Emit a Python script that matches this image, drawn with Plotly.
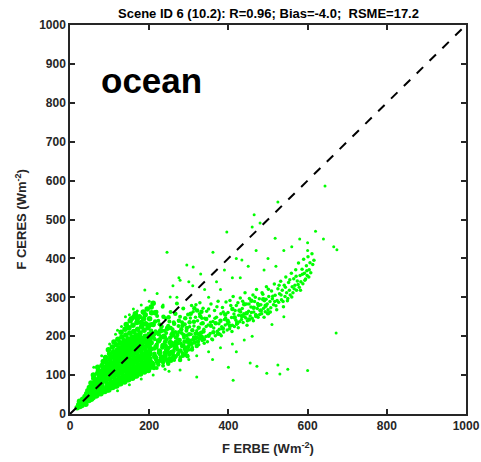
import plotly.graph_objects as go

# Hand-read (F ERBE, F CERES) points, Wm-2
core_points = [
    (18,16),(22,24),(25,19),(28,30),(24,33),(30,22),(32,38),(27,27),
    (35,28),(38,45),(40,33),(42,52),(36,38),(44,40),(45,60),(40,25),(43,47),
    (48,35),(50,62),(52,45),(55,72),(50,52),(54,38),(56,55),(53,80),(49,68),(57,63),
    (58,42),(60,70),(62,50),(64,85),(60,92),(63,58),(65,78),(61,64),(66,46),(59,100),
    (68,48),(70,75),(72,90),(70,105),(73,60),(71,55),(74,98),(69,83),(72,112),(75,68),(70,120),
    (78,52),(80,80),(82,95),(80,110),(83,65),(81,125),(84,58),(79,88),(82,103),(85,118),(80,72),(84,135),
    (88,58),(90,85),(92,100),(90,120),(93,70),(91,135),(94,62),(89,93),(92,110),(95,128),(90,145),(94,78),
    (98,62),(100,90),(102,105),(100,125),(103,75),(101,140),(104,68),(99,98),(102,115),(105,132),(100,155),(104,82),(97,165),(103,148),
    (108,68),(110,95),(112,110),(110,130),(113,80),(111,145),(114,72),(109,103),(112,120),(115,138),(110,160),(114,88),(107,172),(113,152),(111,185),
    (118,72),(120,100),(122,115),(120,135),(123,85),(121,150),(124,78),(119,108),(122,125),(125,143),(120,165),(124,93),(117,178),(123,158),(121,192),(126,170),
    (128,78),(130,105),(132,120),(130,140),(133,90),(131,155),(134,84),(129,113),(132,130),(135,148),(130,170),(134,98),(127,183),(133,163),(131,198),(136,178),(129,210),
    (138,82),(140,110),(142,125),(140,145),(143,95),(141,160),(144,88),(139,118),(142,135),(145,153),(140,175),(144,103),(137,188),(143,168),(141,203),(146,183),(139,218),(142,230),
    (148,88),(150,113),(152,130),(150,150),(153,100),(151,165),(154,93),(149,123),(152,140),(155,158),(150,180),(154,108),(147,193),(153,173),(151,208),(156,188),(149,222),(152,240),
    (158,92),(160,118),(162,135),(160,155),(163,105),(161,170),(164,98),(159,128),(162,145),(165,163),(160,185),(164,113),(157,198),(163,178),(161,212),(166,193),(159,228),(162,250),
    (168,98),(170,123),(172,140),(170,160),(173,110),(171,175),(174,104),(169,133),(172,150),(175,168),(170,190),(174,118),(167,203),(173,183),(171,218),(176,198),(169,235),
    (178,103),(180,128),(182,145),(180,165),(183,115),(181,180),(184,110),(179,138),(182,155),(185,173),(180,195),(184,123),(177,208),(183,188),(181,225),(186,245),
    (188,108),(190,133),(192,150),(190,170),(193,120),(191,185),(194,115),(189,143),(192,160),(195,178),(190,200),(194,128),(187,215),(193,193),(191,232),
    (198,112),(200,138),(202,155),(200,175),(203,125),(201,190),(204,120),(199,148),(202,165),(205,183),(200,205),(204,133),(197,222),(203,198),(201,245),(206,260),
    (155,245),(165,258),(175,250),(185,262),(195,270),(205,275),(210,285),(190,255),(170,245),(180,235),(200,228),(210,230),(215,260),
    (209,124),(214,148),(217,172),(212,206),(221,134),(224,188),(226,158),(229,214),(232,142),(235,176),
    (238,198),(240,150),(244,165),(247,221),(250,139),(253,184),(256,158),(259,203),(262,147),(266,176),
]

transition_points = [
    (196,152),(198,187),(203,142),(205,214),(207,168),(209,131),(211,196),(213,155),(215,238),(217,141),
    (219,178),(221,209),(223,127),(225,163),(227,192),(229,144),(231,225),(233,171),(235,133),(237,201),
    (239,157),(241,186),(243,141),(245,219),(247,168),(249,249),(251,152),(253,196),(255,137),(257,177),
    (259,208),(261,161),(263,232),(265,146),(267,185),(269,171),(271,203),(273,154),(275,240),(277,190),
    (279,163),(281,218),(283,175),(285,150),(287,203),(289,186),(291,246),(293,160),(295,221),(297,192),
    (299,174),(301,205),(303,188),(305,258),(307,180),(309,215),(311,191),(313,237),(315,184),(317,206),
    (319,196),(321,266),(323,186),(325,222),(327,194),(329,251),(331,209),(333,198),(335,233),(337,212),
    (206,231),(212,118),(218,262),(224,205),(230,137),(236,250),(242,175),(248,129),(254,221),(260,142),
    (266,258),(272,182),(278,139),(284,227),(290,167),(296,150),(302,236),(308,166),(314,272),(320,175),
    (326,204),(332,263),(338,192),(344,244),(350,201),(356,227),(362,210),(368,233),(374,206),(380,240),
    (386,220),(392,256),(398,240),(404,227),(410,270),(416,248),(422,234),(428,266),(434,252),(440,282),
    (446,259),(452,243),(458,291),(464,273),(470,252),(476,280),(482,266),(488,295),(494,278),(500,259),
]

mid_points = [
    (211,128),(213,168),(216,213),(218,145),(220,252),(222,186),(224,136),(226,231),(228,162),(230,199),
    (232,147),(234,276),(236,178),(238,214),(240,139),(242,246),(244,192),(246,158),(248,227),(250,171),
    (252,143),(254,262),(256,205),(258,183),(260,155),(262,236),(264,168),(266,211),(268,149),(270,284),
    (272,193),(274,226),(276,162),(278,250),(280,181),(282,208),(284,157),(286,271),(288,196),(290,231),
    (292,170),(294,214),(296,185),(298,256),(299,165),
    (214,192),(219,118),(223,240),(227,153),(231,224),(235,124),(239,185),(243,208),(247,133),(251,238),
    (255,174),(259,218),(263,139),(267,196),(271,165),(275,211),(279,146),(283,236),(287,177),(291,152),
    (295,202),(297,148),
]

branch_points = [
    (301,182),(304,247),(306,205),(309,171),(311,263),(313,226),(316,193),(318,281),(320,214),(322,240),
    (325,178),(327,258),(329,201),(331,232),(334,189),(336,272),(338,218),(340,246),(343,199),(345,264),
    (347,186),(349,229),(352,252),(354,207),(356,283),(358,193),(361,238),(363,221),(365,266),(367,201),
    (370,249),(372,213),(374,290),(376,232),(379,205),(381,258),(383,224),(385,274),(388,211),(390,243),
    (392,229),(394,288),(397,216),(399,261),(401,236),(403,219),(406,279),(408,248),(410,228),(412,302),
    (415,225),(417,266),(419,241),(421,231),(424,286),(426,254),(428,237),(430,298),(433,243),(435,271),
    (437,235),(439,258),(442,312),(444,247),(446,283),(448,240),(451,264),(453,297),(455,252),(457,275),
    (460,246),(462,306),(464,262),(466,289),(469,256),(471,320),(473,271),(475,249),(478,296),(480,266),
    (482,281),(484,258),(487,308),(489,272),(491,291),(493,263),(496,327),(498,283),(500,268),(502,302),
    (505,289),(507,273),(509,316),(511,296),(514,281),(516,334),(518,305),(520,278),(523,292),(525,322),
    (527,287),(529,309),(532,341),(534,294),(536,318),(538,289),(541,331),(543,302),(545,352),(547,312),
    (550,297),(552,338),(554,318),(556,306),(559,362),(561,327),(563,312),(565,348),(568,331),(570,371),
    (572,318),(574,342),(577,388),(579,326),(581,356),(583,340),(586,372),(588,335),(590,398),(592,362),
    (595,347),(597,381),(599,356),(601,404),(604,371),(606,389),(608,363),(611,412),(613,384),(616,395),
    (302,224),(307,279),(312,198),(317,249),(323,207),(328,286),(333,246),(339,182),(344,225),(350,270),
    (355,236),(360,191),(366,246),(371,276),(377,218),(382,201),(387,262),(393,247),(398,232),(404,292),
    (409,212),(414,257),(420,279),(425,222),(431,262),(436,290),(441,250),(447,228),(452,283),(458,261),
    (463,240),(468,300),(474,284),(479,256),(485,312),(490,249),(495,295),(501,321),(506,262),(512,303),
    (517,289),(522,268),(528,331),(533,306),(539,276),(544,326),(549,291),(555,345),(560,301),(566,322),
    (571,354),(576,333),(582,318),(587,359),(593,344),(598,368),(603,352),
]

sparse_points = [
    (189,319),(245,416),(295,383),(361,416),(396,468),(434,396),(460,481),(480,491),(518,452),
    (525,545),(465,512),(644,586),(310,330),(330,360),(350,300),(370,340),(390,370),(410,350),
    (420,400),(450,380),(470,420),(500,400),(520,380),(540,420),(560,430),(580,450),(600,440),
    (620,470),(640,450),(220,310),(260,330),(275,350),(235,280),(270,300),(160,270),(140,250),
    (120,215),(180,280),(200,290),(300,340),(340,320),(380,320),(430,350),(490,370),(600,420),
    (674,422),(666,430),(253,301),(278,344),(311,378),
    (300,140),(320,150),(350,160),(380,170),(410,180),(400,120),(412,87),(455,131),(472,123),
    (497,105),(525,126),(530,103),(550,115),(600,112),(672,208),(360,140),(420,160),(278,113),
    (250,110),(460,200),(440,190),(510,230),(540,250),(320,95),
    (120,60),(150,75),(180,90),(210,100),(240,115),
    (60,120),(80,150),(100,180),(115,205),(130,225),(150,255),(170,265),
]

one_to_one = [0, 1000]
x_ticks = [0, 200, 400, 600, 800, 1000]
y_ticks = [0, 100, 200, 300, 400, 500, 600, 700, 800, 900, 1000]

GREEN = "rgb(0,255,0)"
AX = "#262626"
FONT = "Liberation Sans"

fig = go.Figure()
for pts, sz in [(core_points, 5.5), (transition_points, 4.5), (mid_points, 4),
                (branch_points, 3.5), (sparse_points, 3)]:
    fig.add_trace(go.Scatter(x=[p[0] for p in pts], y=[p[1] for p in pts],
                             mode="markers", marker=dict(color=GREEN, size=sz, line=dict(width=0)),
                             hoverinfo="skip"))
fig.add_trace(go.Scatter(x=one_to_one, y=one_to_one, mode="lines",
                         line=dict(color="black", width=2, dash="dash"), hoverinfo="skip"))

axis_common = dict(
    showline=True, linecolor=AX, linewidth=1.5, mirror="ticks",
    ticks="inside", ticklen=5, tickwidth=1.5, tickcolor=AX,
    showgrid=False, zeroline=False, automargin=False,
    tickfont=dict(family=FONT, size=12, color=AX, weight="bold"),
)

fig.update_layout(
    width=481, height=462,
    margin=dict(l=70, r=15, t=25, b=48),
    paper_bgcolor="white", plot_bgcolor="white",
    showlegend=False,
    xaxis=dict(range=[0, 1000], tickvals=x_ticks, **axis_common),
    yaxis=dict(range=[0, 1000], tickvals=y_ticks, **axis_common),
    annotations=[
        dict(text="<b>Scene ID 6 (10.2): R=0.96; Bias=-4.0;  RSME=17.2</b>",
             xref="paper", yref="paper", x=0.5, y=1.0, yshift=12,
             xanchor="center", yanchor="middle", showarrow=False,
             font=dict(family=FONT, size=13, color="black")),
        dict(text="<b>ocean</b>", xref="paper", yref="paper", x=0.073, y=0.858,
             xanchor="left", yanchor="middle", showarrow=False,
             font=dict(family=FONT, size=35, color="black")),
        dict(text="<b>F ERBE (Wm<sup>-2</sup>)</b>", xref="paper", yref="paper",
             x=0.5, y=-0.087, xanchor="center", yanchor="middle", showarrow=False,
             font=dict(family=FONT, size=13, color=AX)),
        dict(text="<b>F CERES (Wm<sup>-2</sup>)</b>", xref="paper", yref="paper",
             x=-0.126, y=0.5, xanchor="center", yanchor="middle", showarrow=False,
             textangle=-90, font=dict(family=FONT, size=13, color=AX)),
    ],
)

fig.write_html("out.html")
